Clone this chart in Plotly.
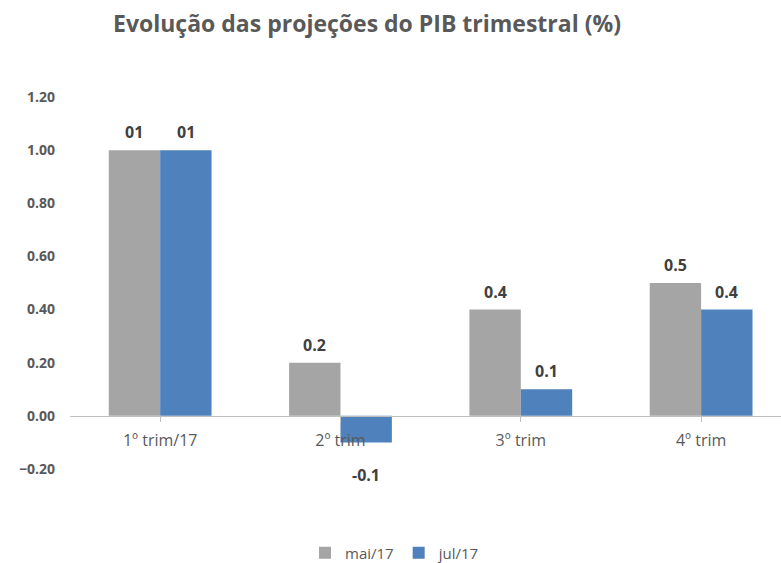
import plotly.graph_objects as go

categories = ["1º trim/17", "2º trim", "3º trim", "4º trim"]
mai17 = [1.0, 0.2, 0.4, 0.5]
jul17 = [1.0, -0.1, 0.1, 0.4]
mai17_labels = ["01", "0.2", "0.4", "0.5"]
jul17_labels = ["01", "-0.1", "0.1", "0.4"]
y_ticks = [-0.2, 0.0, 0.2, 0.4, 0.6, 0.8, 1.0, 1.2]

GRAY = "#A5A5A5"
BLUE = "#4F81BD"
TXT = "#595959"
FONT = "Open Sans"

fig = go.Figure()
fig.add_trace(go.Bar(name="mai/17", x=list(range(len(categories))), y=mai17,
                     marker_color=GRAY, marker_line_width=0))
fig.add_trace(go.Bar(name="jul/17", x=list(range(len(categories))), y=jul17,
                     marker_color=BLUE, marker_line_width=0))

bargap = 0.43
off = (1 - bargap) / 4
for vals, labs, sgn in ((mai17, mai17_labels, -1), (jul17, jul17_labels, 1)):
    for i, (v, t) in enumerate(zip(vals, labs)):
        fig.add_annotation(x=i + sgn * off, y=v, text=t, showarrow=False,
                           xref="x", yref="y", yanchor="middle",
                           yshift=18 if v >= 0 else -33,
                           font=dict(family=FONT, size=16, color="#404040", weight="bold"))

zero_pos = (0 - y_ticks[0]) / (y_ticks[-1] - y_ticks[0])

fig.update_layout(
    width=781, height=563,
    margin=dict(l=70, r=0, t=97, b=94),
    paper_bgcolor="white", plot_bgcolor="white",
    barmode="group", bargap=bargap, bargroupgap=0,
    title=dict(text="<b>Evolução das projeções do PIB trimestral (%)</b>",
               x=367 / 781, xanchor="center", y=1 - 24 / 563, yanchor="middle",
               font=dict(family=FONT, size=23, color=TXT)),
    xaxis=dict(range=[-0.5, 3.443], tickmode="array",
               tickvals=list(range(len(categories))), ticktext=categories,
               tickson="boundaries", ticks="outside", ticklen=5, tickcolor="#BFBFBF",
               showline=True, linecolor="#BFBFBF", linewidth=1,
               anchor="free", position=zero_pos, showgrid=False, zeroline=False,
               ticklabelstandoff=5,
               tickfont=dict(family=FONT, size=16, color=TXT)),
    yaxis=dict(range=[y_ticks[0], y_ticks[-1]], tickmode="array", tickvals=y_ticks,
               tickformat=".2f", showgrid=False, zeroline=False, showline=False,
               ticks="", ticklabelstandoff=14,
               tickfont=dict(family=FONT, size=14, color=TXT, weight="bold")),
    showlegend=True,
    legend=dict(orientation="h", xref="container", yref="container",
                x=395 / 781, xanchor="center", y=1 - 553 / 563, yanchor="middle",
                font=dict(family=FONT, size=15, color=TXT), itemwidth=30,
                traceorder="normal"),
)

fig.write_html("out.html", config={"displayModeBar": False},
               post_script="document.body.style.margin='0';")
